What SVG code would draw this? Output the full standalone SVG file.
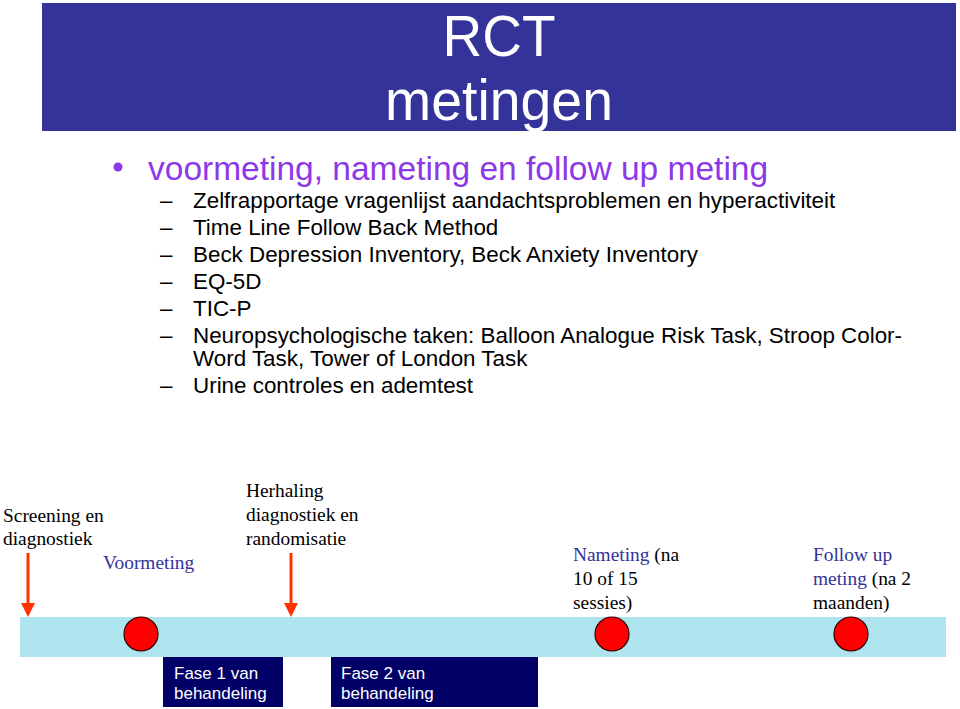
<svg xmlns="http://www.w3.org/2000/svg" width="960" height="709" viewBox="0 0 960 709">
<defs>
<style>
.title{font-family:"Liberation Sans",Arial,sans-serif;font-size:58px;fill:#ffffff;text-anchor:middle}
.bul{font-family:"Liberation Sans",Arial,sans-serif;font-size:33.5px;fill:#8c38e8}
.sub{font-family:"Liberation Sans",Arial,sans-serif;font-size:22.4px;fill:#000000}
.tm{font-family:"Liberation Serif","Times New Roman",serif;font-size:19.4px;fill:#000000}
.blue{fill:#333399}
.fase{font-family:"Liberation Sans",Arial,sans-serif;font-size:17px;fill:#ffffff}
.dot{fill:#ff0000;stroke:#330000;stroke-width:1.2}
.arrow{stroke:#ff3300;stroke-width:3;fill:none}
.box{fill:#000066}
</style>
</defs>
<rect width="960" height="709" fill="#ffffff"/>
<g id="header">
<rect x="42" y="3" width="914" height="128" fill="#333399"/>
<text class="title" x="499" y="56" textLength="113" lengthAdjust="spacingAndGlyphs">RCT</text>
<text class="title" x="499" y="120" textLength="228" lengthAdjust="spacingAndGlyphs">metingen</text>
</g>
<g id="list">
<circle cx="118" cy="167" r="4.5" fill="#8c38e8"/>
<text class="bul" x="148" y="180">voormeting, nameting en follow up meting</text>
<text class="sub" x="160" y="208">–</text><text class="sub" x="193" y="208">Zelfrapportage vragenlijst aandachtsproblemen en hyperactiviteit</text>
<text class="sub" x="160" y="235">–</text><text class="sub" x="193" y="235">Time Line Follow Back Method</text>
<text class="sub" x="160" y="262">–</text><text class="sub" x="193" y="262">Beck Depression Inventory, Beck Anxiety Inventory</text>
<text class="sub" x="160" y="289">–</text><text class="sub" x="193" y="289">EQ-5D</text>
<text class="sub" x="160" y="316">–</text><text class="sub" x="193" y="316">TIC-P</text>
<text class="sub" x="160" y="343">–</text><text class="sub" x="193" y="343">Neuropsychologische taken: Balloon Analogue Risk Task, Stroop Color-</text>
<text class="sub" x="193" y="366">Word Task, Tower of London Task</text>
<text class="sub" x="160" y="393">–</text><text class="sub" x="193" y="393">Urine controles en ademtest</text>
</g>
<g id="timeline">
<rect x="20" y="617" width="926" height="40" fill="#ade4ee"/>
</g>
<g id="connectors">
<line class="arrow" x1="28" y1="553" x2="28" y2="604"/>
<path d="M21,603 L35,603 L28,617 Z" fill="#ff3300"/>
<line class="arrow" x1="291" y1="553" x2="291" y2="604"/>
<path d="M284,603 L298,603 L291,617 Z" fill="#ff3300"/>
</g>
<g id="screening">
<text class="tm" x="3" y="522">Screening en</text>
<text class="tm" x="3" y="545">diagnostiek</text>
</g>
<g id="voormeting">
<circle class="dot" cx="141" cy="634" r="17"/>
<text class="tm blue" x="103" y="569">Voormeting</text>
</g>
<g id="herhaling">
<text class="tm" x="246" y="497">Herhaling</text>
<text class="tm" x="246" y="521">diagnostiek en</text>
<text class="tm" x="246" y="545">randomisatie</text>
</g>
<g id="nameting">
<circle class="dot" cx="612" cy="634" r="17"/>
<text class="tm" x="573" y="561"><tspan class="blue">Nameting</tspan> (na</text>
<text class="tm" x="573" y="585">10 of 15</text>
<text class="tm" x="573" y="609">sessies)</text>
</g>
<g id="followup">
<circle class="dot" cx="851" cy="634" r="17"/>
<text class="tm blue" x="813" y="561">Follow up</text>
<text class="tm" x="813" y="585"><tspan class="blue">meting</tspan> (na 2</text>
<text class="tm" x="813" y="609">maanden)</text>
</g>
<g id="fase1">
<rect class="box" x="163" y="657" width="120" height="50"/>
<text class="fase" x="174" y="679">Fase 1 van</text>
<text class="fase" x="174" y="699">behandeling</text>
</g>
<g id="fase2">
<rect class="box" x="331" y="657" width="207" height="50"/>
<text class="fase" x="341" y="679">Fase 2 van</text>
<text class="fase" x="341" y="699">behandeling</text>
</g>
</svg>
